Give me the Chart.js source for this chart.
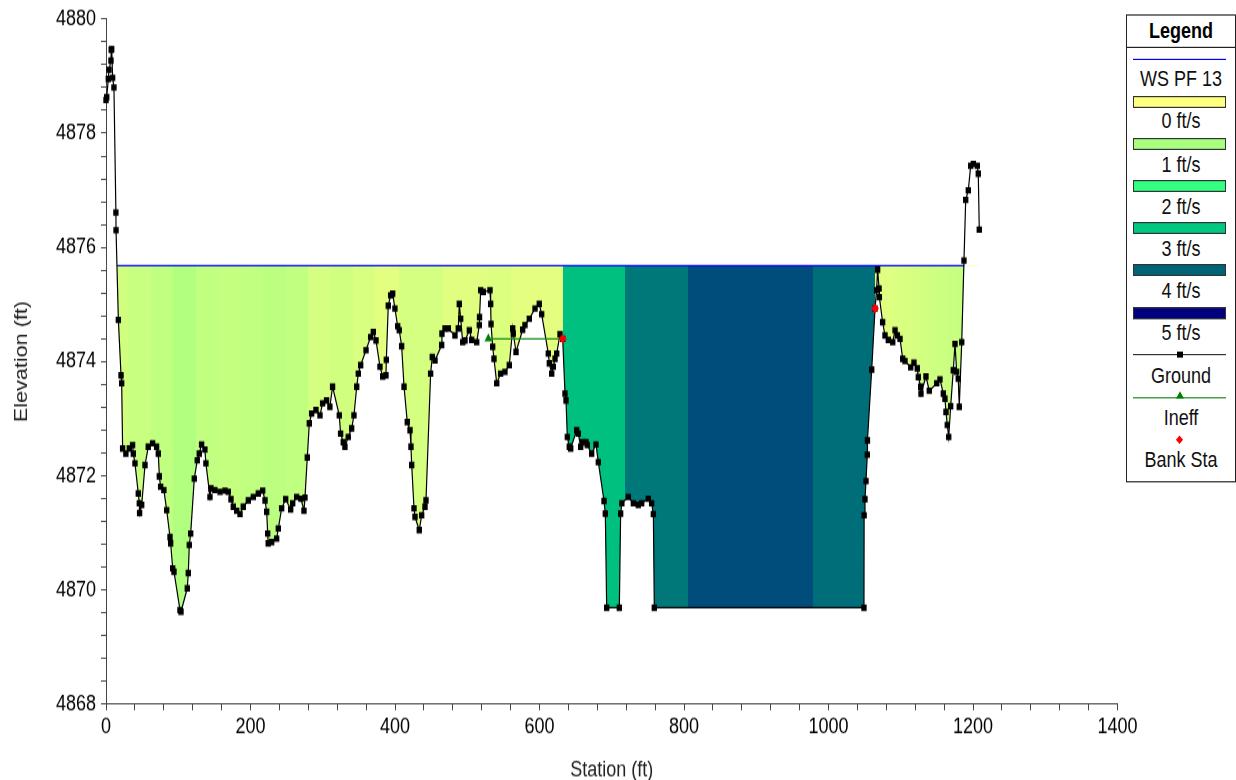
<!DOCTYPE html>
<html lang="en">
<head>
  <meta charset="UTF-8">
  <title>Cross Section - Velocity Distribution</title>
  <script src="https://cdn.jsdelivr.net/npm/chart.js"></script>
  <style>
    html {
      overflow: hidden;
    }
    body {
      margin: 0;
      padding: 0;
      width: 1236px;
      height: 780px;
      background: #fff;
    }
    /* the whole figure is drawn 650 tall and stretched to 780 */
    #wrap {
      position: relative;
      width: 1236px;
      height: 650px;
      transform: scaleY(1.2);
      transform-origin: 0 0;
      font-family: 'Liberation Sans', Arial, sans-serif;
    }
    #plot {
      position: absolute;
      left: 0;
      top: 0;
      width: 1236px;
      height: 650px;
    }
    .legend {
      position: absolute;
      left: 1126px;
      top: 11.7px;
      width: 110px;
      height: 390px;
      border: 1px solid #222;
      box-sizing: border-box;
      background: #fff;
    }
    .legend .head {
      height: 26px;
      line-height: 26px;
      border-bottom: 1px solid #222;
      text-align: center;
      font-weight: bold;
      font-size: 18px;
      color: #000;
    }
    .legend .txt {
      position: absolute;
      left: 0;
      width: 100%;
      height: 20px;
      line-height: 20px;
      text-align: center;
      font-size: 18px;
      color: #111;
    }
    .legend .sym {
      position: absolute;
      left: 6px;
      width: 93px;
      box-sizing: border-box;
    }
    .legend .mk {
      position: absolute;
    }
  </style>
</head>
<body>
  <div id="wrap">
    <div id="plot"><canvas id="xsChart"></canvas></div>
    <div class="legend" id="legend"><div class="head">Legend</div></div>
  </div>

  <script>
    // ground survey points [station ft, elevation ft]
    const groundPoints = [
      [0,4878.58],[1,4878.63],[3.2,4878.95],[4.2,4879.11],[6.9,4879.27],[7.2,4879.46],[7.9,4879.47],[9.2,4878.97],[11,4878.80],[13.7,4876.61],[13.9,4876.30],
      [17.1,4874.73],[20.8,4873.76],[21.7,4873.62],[23,4872.48],[27.5,4872.39],[32.3,4872.48],[36.8,4872.54],[37.8,4872.39],[40.1,4872.22],[44.7,4871.69],
      [46.1,4871.52],[46.5,4871.35],[49.4,4871.49],[54,4872.19],[58.5,4872.51],[64.5,4872.57],[70,4872.51],[72.4,4872.39],[73.8,4871.99],[75.6,4871.81],
      [80.1,4871.75],[84,4871.40],[88.6,4870.93],[89.5,4870.82],[92.3,4870.38],[94.1,4870.32],[102.4,4869.65],[103.8,4869.62],[112.5,4870.03],[113.9,4870.30],
      [115.3,4870.79],[117.2,4870.99],[122.2,4871.95],[126.3,4872.27],[129.1,4872.39],[132.3,4872.55],[136.9,4872.46],[138.3,4872.22],[143.9,4871.63],[145.2,4871.78],
      [150.7,4871.75],[157.8,4871.72],[164.7,4871.74],[169.3,4871.72],[173,4871.59],[176.2,4871.46],[180.9,4871.39],[185.5,4871.33],[190,4871.46],[197,4871.57],
      [203.9,4871.63],[210.8,4871.69],[216.9,4871.74],[220.1,4871.57],[222.4,4871.37],[223.8,4870.99],[224.5,4870.82],[229.3,4870.84],[236.2,4870.90],[238.5,4871.08],
      [243.1,4871.43],[248.7,4871.59],[255.6,4871.41],[258.4,4871.52],[263.9,4871.63],[269.8,4871.60],[274,4871.39],[275.4,4871.62],[278.6,4872.32],[281.4,4872.92],
      [284.6,4873.09],[290.6,4873.15],[296.2,4873.06],[299.8,4873.27],[305.3,4873.32],[309.9,4873.21],[313.6,4873.56],[322.9,4873.06],[324.7,4872.74],[328.4,4872.59],
      [330.7,4872.51],[335.3,4872.68],[340,4872.83],[343.2,4873.06],[347,4873.56],[349.2,4873.79],[352.5,4873.94],[359.9,4874.20],[366.3,4874.43],[370,4874.52],
      [373.7,4874.37],[379.2,4873.91],[383,4873.74],[387.5,4873.76],[388,4874.03],[390.7,4874.98],[394,4875.16],[396.8,4875.19],[399.9,4874.93],[403.7,4874.62],
      [405.9,4874.55],[409.2,4874.27],[412.5,4873.56],[417,4872.94],[420.8,4872.80],[422.1,4872.51],[423.1,4872.19],[426.3,4871.43],[427.7,4871.28],[433.6,4871.05],
      [436.9,4871.31],[441.5,4871.46],[442.9,4871.57],[449.3,4873.79],[451.6,4874.08],[455.4,4874.02],[464.6,4874.29],[465,4874.49],[469.2,4874.58],[473.8,4874.58],
      [483,4874.46],[487.6,4874.58],[489,4875.01],[490.9,4874.75],[493.7,4874.34],[496.9,4874.37],[502.9,4874.55],[506.1,4874.38],[513.1,4874.34],[516.7,4874.64],
      [517,4874.78],[518.6,4875.25],[522.2,4875.22],[531.5,4875.25],[532.4,4875.01],[532.9,4874.66],[535.2,4874.26],[537,4874.05],[540.8,4873.62],[546.2,4873.79],
      [552.2,4873.82],[558.2,4873.94],[562.9,4874.58],[563.7,4874.49],[567.5,4874.17],[576.7,4874.56],[579.9,4874.64],[585.9,4874.75],[593.8,4874.93],[599.7,4875.01],
      [603,4874.83],[612.2,4874.14],[613.6,4873.97],[616.9,4873.79],[619.1,4873.91],[621.5,4874.05],[623.8,4874.14],[628.4,4874.48],[632.1,4874.40],[635.3,4873.44],
      [636.7,4873.32],[638.5,4872.68],[641.2,4872.51],[643.2,4872.48],[651.5,4872.80],[653.7,4872.74],[657,4872.51],[659.8,4872.59],[664.4,4872.59],[666.2,4872.54],
      [672.2,4872.39],[678.2,4872.55],[681.4,4872.24],[689.3,4871.56],[691.1,4871.34],[693,4869.69],[710.5,4869.69],[712.3,4871.34],[714,4871.52],[723,4871.63],
      [729.9,4871.52],[736.7,4871.49],[741.4,4871.52],[750.6,4871.60],[755.2,4871.52],[757.6,4871.33],[758.9,4869.69],[1049.1,4869.69],[1049.3,4871.31],[1050.5,4871.59],
      [1051.9,4871.91],[1053.7,4872.37],[1053.9,4872.62],[1059.8,4873.86],[1064.4,4874.93],[1066.6,4875.25],[1068,4875.61],[1070,4875.28],[1070.4,4875.13],[1074.9,4874.69],
      [1078.2,4874.46],[1082.8,4874.38],[1088.9,4874.34],[1092.1,4874.55],[1095.3,4874.46],[1099,4874.40],[1102.7,4874.05],[1105.9,4874.01],[1113.8,4873.90],[1118.3,4873.98],
      [1122.9,4873.88],[1124.3,4873.73],[1127.6,4873.56],[1128,4873.44],[1134.9,4873.74],[1139.5,4873.49],[1149.8,4873.62],[1154.3,4873.69],[1158.9,4873.44],[1161.2,4873.35],
      [1162.6,4873.12],[1164.4,4872.89],[1166.4,4872.68],[1169.1,4873.22],[1172.7,4873.85],[1175.1,4874.31],[1177.4,4873.82],[1179.6,4873.70],[1181,4873.21],[1184.4,4874.34],
      [1187.5,4875.77],[1189.9,4876.83],[1193.5,4877.00],[1196.8,4877.43],[1200.5,4877.46],[1206,4877.43],[1207.3,4877.29],[1208.7,4876.31]
    ];

    // water surface, profile PF 13
    const wsElev = 4875.68;
    const wsStations = [15.5, 1187.8];

    // ineffective flow area and bank stations
    const ineffStations = [529.2, 635];
    const ineffElev = [4874.40, 4874.40];
    const bankStations = [632.1, 1064.4];
    const bankElev = [4874.40, 4874.93];

    // velocity distribution: slice edges (ft) and mean velocity per slice (ft/s)
    const sliceEdges = [
      0, 30, 62, 93, 124, 156, 187, 217, 249, 279, 311, 342, 373, 405, 436, 467, 498, 529, 560, 591,
      632.1, 718.5, 805, 891.5, 978,
      1064.4, 1076.8, 1089.2, 1101.6, 1114, 1126.4, 1138.8, 1151.2, 1163.6, 1176, 1188.4
    ];
    const sliceVel = [
      0.54, 0.63, 0.72, 0.89, 0.72, 0.68, 0.72, 0.77, 0.72, 0.49, 0.54, 0.45, 0.33, 0.49, 0.49, 0.36, 0.36, 0.40, 0.31, 0.31,
      3.08, 3.80, 4.24, 4.24, 3.90,
      0.34, 0.37, 0.41, 0.44, 0.47, 0.51, 0.55, 0.59, 0.63, 0.67
    ];

    // legend velocity classes (ft/s)
    const legendVel = [0, 1, 2, 3, 4, 5];

    // colour ramp for 0..5 ft/s
    const velRamp = ['#ffff80', '#a8ff80', '#33ff80', '#00c880', '#006478', '#000080'];

    function hexRgb(h) {
      return [1, 3, 5].map(i => parseInt(h.substr(i, 2), 16));
    }

    function velColor(v) {
      const i = Math.max(0, Math.min(velRamp.length - 2, Math.floor(v)));
      const t = Math.max(0, Math.min(1, v - i));
      const a = hexRgb(velRamp[i]);
      const b = hexRgb(velRamp[i + 1]);
      const c = a.map((ch, k) => Math.round(ch + (b[k] - ch) * t));
      return 'rgb(' + c.join(',') + ')';
    }

    // horizontal gradient with hard stops, one band per velocity slice
    function sliceFill(context) {
      const chart = context.chart;
      const xs = chart.scales.x;
      if (!chart.chartArea || !xs) return 'rgba(0,0,0,0)';
      const p0 = xs.getPixelForValue(sliceEdges[0]);
      const p1 = xs.getPixelForValue(sliceEdges[sliceEdges.length - 1]);
      const grad = chart.ctx.createLinearGradient(p0, 0, p1, 0);
      sliceVel.forEach((v, i) => {
        const col = velColor(v);
        grad.addColorStop((xs.getPixelForValue(sliceEdges[i]) - p0) / (p1 - p0), col);
        grad.addColorStop((xs.getPixelForValue(sliceEdges[i + 1]) - p0) / (p1 - p0), col);
      });
      return grad;
    }

    const fontFamily = "'Liberation Sans', Arial, sans-serif";
    Chart.defaults.font.family = fontFamily;

    const ctx = document.getElementById('xsChart').getContext('2d');
    const xsChart = new Chart(ctx, {
      type: 'line',
      data: {
        datasets: [
          {
            label: 'Bank Sta',
            order: 0,
            data: bankStations.map((s, i) => ({ x: s, y: bankElev[i] })),
            showLine: false,
            pointStyle: 'rectRot',
            pointRadius: 4,
            pointBackgroundColor: '#ff0000',
            pointBorderColor: '#ff0000',
            pointBorderWidth: 0
          },
          {
            label: 'Ineff',
            order: 1,
            data: ineffStations.map((s, i) => ({ x: s, y: ineffElev[i] })),
            borderColor: '#1a8a1a',
            borderWidth: 1.2,
            pointStyle: 'triangle',
            pointRadius: [4.5, 0],
            pointBackgroundColor: '#008000',
            pointBorderColor: '#008000',
            pointBorderWidth: 0,
            fill: false
          },
          {
            label: 'Ground',
            order: 2,
            data: groundPoints.map(p => ({ x: p[0], y: p[1] })),
            borderColor: '#000',
            borderWidth: 1.2,
            pointStyle: 'rect',
            pointRadius: 3.8,
            pointBackgroundColor: '#000',
            pointBorderColor: '#000',
            pointBorderWidth: 0,
            backgroundColor: sliceFill,
            fill: { target: { value: wsElev }, above: 'rgba(0,0,0,0)' },
            clip: 6
          },
          {
            label: 'WS PF 13',
            order: 3,
            data: wsStations.map(s => ({ x: s, y: wsElev })),
            borderColor: '#0000ff',
            borderWidth: 1.3,
            pointRadius: 0,
            fill: false
          }
        ]
      },
      options: {
        responsive: true,
        maintainAspectRatio: false,
        animation: false,
        events: [],
        layout: { padding: { top: 15.25, right: 118.5, left: 0, bottom: 0 } },
        elements: { line: { tension: 0 } },
        plugins: {
          legend: { display: false },
          tooltip: { enabled: false },
          filler: { drawTime: 'beforeDatasetsDraw' }
        },
        scales: {
          x: {
            type: 'linear',
            min: 0,
            max: 1400,
            afterFit(scale) { scale.height = 63.1; },
            ticks: {
              stepSize: 40,
              autoSkip: false,
              maxRotation: 0,
              padding: 3,
              color: '#000',
              font: { size: 18 },
              callback: v => (Math.round(v) % 200 === 0 ? String(Math.round(v)) : '')
            },
            grid: { drawOnChartArea: false, tickLength: 5, color: '#444' },
            border: { color: '#444', width: 1 },
            title: {
              display: true,
              text: 'Station (ft)',
              color: '#222',
              font: { size: 18 },
              padding: { top: 0, bottom: -3 }
            }
          },
          y: {
            type: 'linear',
            min: 4868,
            max: 4880,
            afterFit(scale) { scale.width = 106; },
            ticks: {
              stepSize: 0.4,
              autoSkip: false,
              padding: 5,
              color: '#000',
              font: { size: 18 },
              callback: v => {
                const r = Math.round(v * 10) / 10;
                return Math.abs(r % 2) < 1e-6 ? String(Math.round(r)) : '';
              }
            },
            grid: { drawOnChartArea: false, tickLength: 5, color: '#444' },
            border: { color: '#444', width: 1 },
            title: {
              display: true,
              text: 'Elevation (ft)',
              color: '#222',
              font: { size: 18 },
              padding: { top: 11, bottom: 0 }
            }
          }
        }
      }
    });

    // legend panel
    const legendItems = [
      { label: 'WS PF 13', kind: 'line', color: '#0000ff' },
      ...legendVel.map(v => ({ label: v + ' ft/s', kind: 'bar', color: velColor(v) })),
      { label: 'Ground', kind: 'line', color: '#333', marker: 'square' },
      { label: 'Ineff', kind: 'line', color: '#1a8a1a', marker: 'triangle' },
      { label: 'Bank Sta', kind: 'none', marker: 'diamond' }
    ];

    const legendEl = document.getElementById('legend');
    legendItems.forEach((item, i) => {
      const y = 36.8 + 35.2 * i;
      if (item.kind === 'line') {
        const d = document.createElement('div');
        d.className = 'sym';
        d.style.top = (y - 0.5) + 'px';
        d.style.height = '1px';
        d.style.background = item.color;
        legendEl.appendChild(d);
      } else if (item.kind === 'bar') {
        const d = document.createElement('div');
        d.className = 'sym';
        d.style.top = (y - 5) + 'px';
        d.style.height = '10px';
        d.style.background = item.color;
        d.style.border = '1px solid #333';
        legendEl.appendChild(d);
      }
      if (item.marker) {
        const m = document.createElement('div');
        m.className = 'mk';
        if (item.marker === 'square') {
          Object.assign(m.style, { left: '49.5px', top: (y - 2.5) + 'px', width: '6px', height: '5px', background: '#000' });
        } else if (item.marker === 'triangle') {
          Object.assign(m.style, {
            left: '48.5px', top: (y - 5) + 'px', width: '0', height: '0',
            borderLeft: '4px solid transparent', borderRight: '4px solid transparent',
            borderBottom: '6px solid #008000'
          });
        } else if (item.marker === 'diamond') {
          Object.assign(m.style, { left: '50px', top: (y - 2.5) + 'px', width: '5px', height: '5px', background: '#ff0000', transform: 'rotate(45deg)' });
        }
        legendEl.appendChild(m);
      }
      const t = document.createElement('div');
      t.className = 'txt';
      t.style.top = (y + 16.8 - 10) + 'px';
      t.textContent = item.label;
      legendEl.appendChild(t);
    });
  </script>
</body>
</html>
